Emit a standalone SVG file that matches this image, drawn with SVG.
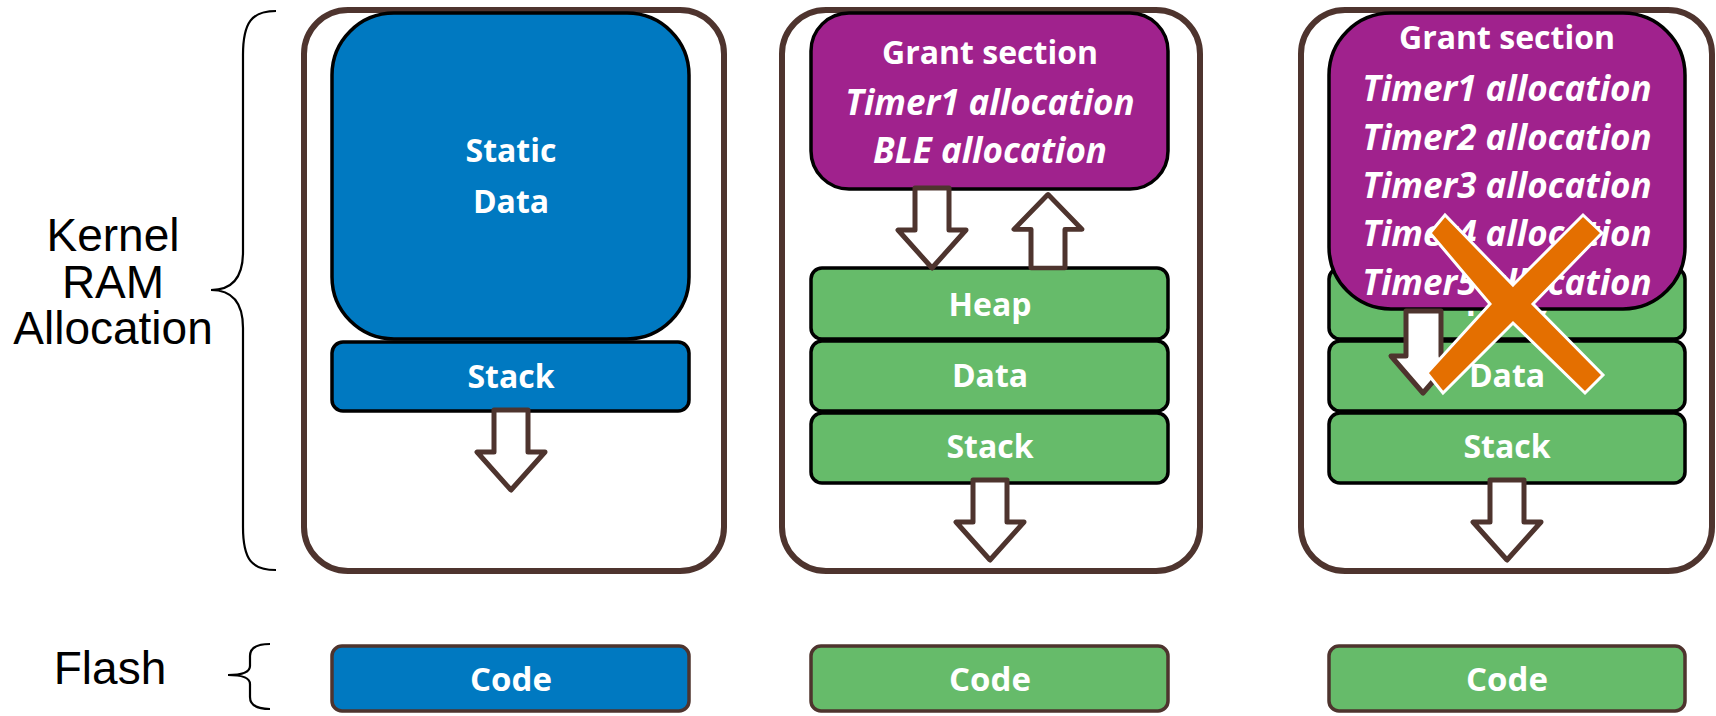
<svg xmlns="http://www.w3.org/2000/svg" width="1716" height="716" viewBox="0 0 1716 716">
<style>
.panel{fill:#fff;stroke:#4E342E;stroke-width:6}
.blue{fill:#0079C1;stroke:#000;stroke-width:3.5}
.green{fill:#66BB6A;stroke:#000;stroke-width:3.5}
.purple{fill:#A0228D;stroke:#000;stroke-width:3.5}
.codeb{fill:#0079C1;stroke:#4E342E;stroke-width:3.5}
.codeg{fill:#66BB6A;stroke:#4E342E;stroke-width:3.5}
.arrow{fill:#fff;stroke:#4E342E;stroke-width:5;stroke-linejoin:round}
.t{font-family:"Open Sans","DejaVu Sans",sans-serif;font-weight:bold;fill:#fff;font-size:32px;text-anchor:middle}
.ti{font-style:italic;font-size:35px}
.code{font-size:33px}
.lbl{font-family:"Liberation Sans",Arial,sans-serif;font-size:46px;fill:#000;text-anchor:middle}
.brace{fill:none;stroke:#000;stroke-width:2.2}
</style>
<defs>
<path id="dn" d="M-17,0 L17,0 L17,42 L34,42 L0,80 L-34,42 L-17,42 Z"/>
</defs>

<g id="labels">
<text class="lbl" x="113" y="251">Kernel</text>
<text class="lbl" x="113" y="298">RAM</text>
<text class="lbl" x="113" y="344">Allocation</text>
<text class="lbl" x="110" y="684">Flash</text>
<path class="brace" d="M276,11 C252,11 243,22 243,55 L243,252 C243,278 232,290 211,290 C232,290 243,302 243,328 L243,527 C243,560 252,570 276,570"/>
<path class="brace" d="M270,644 C256,644 250,648 250,656 L250,666 C250,672 244,675 228,675 C244,675 250,678 250,684 L250,697 C250,705 256,709 270,709"/>
</g>

<g id="panel1">
<rect class="panel" x="304" y="10" width="420" height="561" rx="44"/>
<rect class="blue" x="332" y="13" width="357" height="326" rx="62"/>
<text class="t" x="511" y="162">Static</text>
<text class="t" x="511" y="213">Data</text>
<rect class="blue" x="332" y="342" width="357" height="69" rx="11"/>
<text class="t" x="511" y="388">Stack</text>
<use href="#dn" class="arrow" x="511" y="410"/>
</g>

<g id="panel2">
<rect class="panel" x="782" y="10" width="418" height="561" rx="44"/>
<rect class="purple" x="811" y="13" width="357" height="176" rx="38"/>
<text class="t" x="990" y="64">Grant section</text>
<text class="t ti" x="990" y="115">Timer1 allocation</text>
<text class="t ti" x="990" y="163">BLE allocation</text>
<rect class="green" x="811" y="268" width="357" height="71" rx="11"/>
<text class="t" x="990" y="316">Heap</text>
<rect class="green" x="811" y="341" width="357" height="70" rx="11"/>
<text class="t" x="990" y="387">Data</text>
<rect class="green" x="811" y="413" width="357" height="70" rx="11"/>
<text class="t" x="990" y="458">Stack</text>
<use href="#dn" class="arrow" x="932" y="188" />
<use href="#dn" class="arrow" transform="translate(1048,268) scale(1,-0.92)"/>
<use href="#dn" class="arrow" x="990" y="480"/>
</g>

<g id="panel3">
<rect class="panel" x="1301" y="10" width="411" height="561" rx="44"/>
<rect class="green" x="1329" y="268" width="356" height="71" rx="11"/>
<text class="t" x="1507" y="316">Heap</text>
<rect class="green" x="1329" y="341" width="356" height="70" rx="11"/>
<text class="t" x="1507" y="387">Data</text>
<rect class="green" x="1329" y="413" width="356" height="70" rx="11"/>
<text class="t" x="1507" y="458">Stack</text>
<rect class="purple" x="1329" y="13" width="356" height="296" rx="62"/>
<text class="t" x="1507" y="49">Grant section</text>
<text class="t ti" x="1507" y="101">Timer1 allocation</text>
<text class="t ti" x="1507" y="150">Timer2 allocation</text>
<text class="t ti" x="1507" y="198">Timer3 allocation</text>
<text class="t ti" x="1507" y="246">Timer4 allocation</text>
<text class="t ti" x="1507" y="295">Timer5 allocation</text>
<path class="arrow" d="M1406,311 L1441,311 L1441,356 L1455,356 L1423,393 L1391,356 L1406,356 Z"/>
<use href="#dn" class="arrow" x="1507" y="480"/>
<polygon points="1513,285 1583,215 1602,233 1533,304 1603,375 1585,393 1513,323 1443,393 1427,373 1490,304 1430,233 1445,215" fill="#E46F00" stroke="#fff" stroke-width="3" stroke-linejoin="miter"/>
</g>

<g id="flash">
<rect class="codeb" x="332" y="646" width="357" height="65" rx="10"/>
<text class="t code" x="511" y="691">Code</text>
<rect class="codeg" x="811" y="646" width="357" height="65" rx="10"/>
<text class="t code" x="990" y="691">Code</text>
<rect class="codeg" x="1329" y="646" width="356" height="65" rx="10"/>
<text class="t code" x="1507" y="691">Code</text>
</g>
</svg>
